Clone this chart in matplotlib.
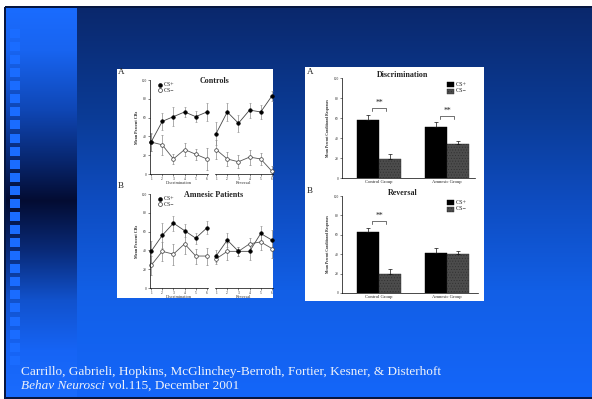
import numpy as np
import matplotlib
matplotlib.use("Agg")
import matplotlib.pyplot as plt
from matplotlib.patches import Rectangle

# ---- data -------------------------------------------------------------
sessions = [1, 2, 3, 4, 5, 6]

ctrl_disc_csp = [34, 56, 61, 66, 61, 66]
ctrl_disc_csp_err = [9, 9, 10, 5, 6, 10]
ctrl_disc_csm = [34, 31, 16, 26, 21, 16]
ctrl_disc_csm_err = [10, 11, 5, 7, 6, 12]
ctrl_rev_csp = [43, 66, 54, 68, 66, 83]
ctrl_rev_csp_err = [12, 10, 9, 8, 7, 5]
ctrl_rev_csm = [26, 16, 13, 18, 16, 3]
ctrl_rev_csm_err = [10, 7, 7, 8, 6, 5]

amn_disc_csp = [39, 56, 69, 61, 53, 64]
amn_disc_csp_err = [11, 13, 8, 7, 6, 7]
amn_disc_csm = [24, 39, 36, 47, 34, 34]
amn_disc_csm_err = [10, 10, 11, 11, 8, 9]
amn_rev_csp = [34, 51, 39, 39, 58, 51]
amn_rev_csp_err = [6, 7, 5, 9, 8, 11]
amn_rev_csm = [31, 39, 39, 47, 49, 42]
amn_rev_csm_err = [5, 9, 5, 6, 9, 10]

groups = ["Control Group", "Amnesic Group"]
disc_csp = [58, 51]
disc_csp_err = [5, 5]
disc_csm = [19, 34]
disc_csm_err = [5, 3]
rev_csp = [63, 41]
rev_csp_err = [4.5, 5.5]
rev_csm = [20, 40]
rev_csm_err = [4.5, 3]

yticks = [0, 20, 40, 60, 80, 100]

W, H = 592, 399
SERIF = ["Liberation Serif", "DejaVu Serif"]
plt.rcParams["font.family"] = SERIF
plt.rcParams["hatch.linewidth"] = 0.35

fig = plt.figure(figsize=(W / 100, H / 100), dpi=100)

# ---- slide background --------------------------------------------------
def ramp(stops, n):
    ys = np.arange(n)
    pos = [s[0] for s in stops]
    out = np.zeros((n, 3))
    for c in range(3):
        out[:, c] = np.interp(ys, pos, [s[1][c] for s in stops])
    return out / 255.0

main_stops = [(7, (10, 40, 108)), (120, (11, 60, 152)), (200, (14, 76, 192)),
              (290, (18, 95, 230)), (398, (20, 102, 250))]
strip_stops = [(7, (26, 108, 255)), (50, (24, 100, 240)), (110, (15, 70, 180)),
               (160, (8, 38, 110)), (200, (3, 12, 50)), (250, (9, 42, 120)),
               (300, (17, 82, 205)), (350, (22, 100, 245)), (398, (26, 108, 255))]

bg = np.ones((H, W, 3))
main = ramp(main_stops, H)
strip = ramp(strip_stops, H)
bg[7:, 5:, :] = main[7:, None, :]
bg[7:, 5:77, :] = strip[7:, None, :]
sq = np.array([26, 108, 255]) / 255.0
for k in range(26):
    y0 = int(round(29 + k * 13.07))
    bg[y0:y0 + 9, 10:20, :] = sq
border = np.array([6, 22, 64]) / 255.0
bg[6:8, 5:, :] = border
bg[7:, 4:6, :] = border
bg[397:, 5:, :] = border

ax_bg = fig.add_axes([0, 0, 1, 1])
ax_bg.imshow(bg, extent=(0, W, H, 0), interpolation="bilinear", aspect="auto")
ax_bg.set_xlim(0, W)
ax_bg.set_ylim(H, 0)
ax_bg.axis("off")

# white figure panels
ax_bg.add_patch(Rectangle((117, 69), 156, 229, facecolor="white", edgecolor="none"))
ax_bg.add_patch(Rectangle((305, 67), 179, 234, facecolor="white", edgecolor="none"))


def px_axes(x0, y0, x1, y1):
    return fig.add_axes([x0 / W, 1 - y1 / H, (x1 - x0) / W, (y1 - y0) / H])


def style_axes(ax, show_y=True):
    for s in ("top", "right"):
        ax.spines[s].set_visible(False)
    ax.spines["bottom"].set_linewidth(0.5)
    ax.spines["left"].set_linewidth(0.5)
    ax.spines["left"].set_visible(show_y)
    ax.patch.set_alpha(0)
    ax.tick_params(length=1.5, width=0.4, pad=0.8, labelsize=2.6, colors="#222222")
    if not show_y:
        ax.tick_params(axis="y", left=False, labelleft=False)


# ---- line plots (Controls / Amnesic Patients) --------------------------
def line_pair(ax, csp, csp_err, csm, csm_err):
    ekw = dict(ecolor="#8a8a8a", elinewidth=0.5, capsize=1.0, capthick=0.4)
    ax.errorbar(sessions, csm, yerr=csm_err, color="#555555", lw=0.6, marker="o",
                ms=2.6, mfc="white", mec="#333333", mew=0.5, clip_on=False, **ekw)
    ax.errorbar(sessions, csp, yerr=csp_err, color="#444444", lw=0.6, marker="o",
                ms=2.6, mfc="black", mec="black", mew=0.4, clip_on=False, **ekw)
    ax.set_xlim(0.9, 6.1)
    ax.set_ylim(0, 100)
    ax.set_xticks(sessions)
    ax.set_xticklabels([str(s) for s in sessions])


rows = [
    (80, 174, "A", 72, "Controls",
     (ctrl_disc_csp, ctrl_disc_csp_err, ctrl_disc_csm, ctrl_disc_csm_err),
     (ctrl_rev_csp, ctrl_rev_csp_err, ctrl_rev_csm, ctrl_rev_csm_err)),
    (194, 288, "B", 186, "Amnesic Patients",
     (amn_disc_csp, amn_disc_csp_err, amn_disc_csm, amn_disc_csm_err),
     (amn_rev_csp, amn_rev_csp_err, amn_rev_csm, amn_rev_csm_err)),
]

for top, bot, letter, ly, title, disc, rev in rows:
    a1 = px_axes(150, top, 208, bot)
    a2 = px_axes(215, top, 273, bot)
    style_axes(a1)
    style_axes(a2, show_y=False)
    line_pair(a1, *disc)
    line_pair(a2, *rev)
    a1.set_yticks(yticks)
    a1.set_yticklabels([str(t) for t in yticks])
    a1.set_xlabel("Discrimination", fontsize=3.2, labelpad=0.2, color="#333333")
    a2.set_xlabel("Reversal", fontsize=3.2, labelpad=0.2, color="#333333")
    a1.set_ylabel("Mean Percent CRs", fontsize=3.0, labelpad=1.5, color="#222222",
                  fontweight="bold")
    ax_bg.text(118, ly, letter, fontsize=6.5, color="#222222", va="center", ha="left")
    ax_bg.text(214, top + 1, title, fontsize=5.8, fontweight="bold", color="#222222",
               va="center", ha="center")
    # key
    ax_bg.plot([160], [top + 5], "o", ms=2.8, mfc="black", mec="black", mew=0.4)
    ax_bg.plot([160], [top + 10], "o", ms=2.8, mfc="white", mec="#333333", mew=0.5)
    ax_bg.text(164, top + 5, "CS+", fontsize=4.2, va="center", ha="left", color="#222222")
    ax_bg.text(164, top + 10, "CS\u2212", fontsize=4.2, va="center", ha="left", color="#222222")

# ---- bar charts (Discrimination / Reversal) -----------------------------
xg = np.arange(len(groups))
bw = 0.32
bars = [
    (78, 178, 475, "A", 72, "Discrimination", disc_csp, disc_csp_err, disc_csm,
     disc_csm_err, [(0, 70), (1, 62)]),
    (196, 293, 478, "B", 191, "Reversal", rev_csp, rev_csp_err, rev_csm,
     rev_csm_err, [(0, 74)]),
]
for top, bot, right, letter, ly, title, csp, csp_e, csm, csm_e, sig in bars:
    ax = px_axes(342, top, right, bot)
    style_axes(ax)
    x_lo = (342 - 379) / 68.0
    x_hi = (right - 379) / 68.0
    ax.bar(xg - bw / 2, csp, bw, color="black", edgecolor="black", lw=0.3)
    ax.bar(xg + bw / 2, csm, bw, color="#4c4c4c", edgecolor="#2e2e2e", lw=0.3,
           hatch="......")
    ekw = dict(fmt="none", ecolor="#111111", elinewidth=0.5, capsize=1.6, capthick=0.5)
    ax.errorbar(xg - bw / 2, csp, yerr=[np.zeros(len(csp)), csp_e], **ekw)
    ax.errorbar(xg + bw / 2, csm, yerr=[np.zeros(len(csm)), csm_e], **ekw)
    for g, yb in sig:
        ax.plot([g - 0.1, g - 0.1, g + 0.1, g + 0.1], [yb - 2.5, yb, yb, yb - 2.5],
                color="#222222", lw=0.45)
        ax.text(g, yb + 1.5, "**", fontsize=5.5, ha="center", va="bottom", color="#222222")
    ax.set_xlim(x_lo, x_hi)
    ax.set_ylim(0, 100)
    ax.set_yticks(yticks)
    ax.set_yticklabels([str(t) for t in yticks])
    ax.set_xticks(xg)
    ax.set_xticklabels(groups, fontsize=3.3)
    ax.tick_params(axis="x", length=0, pad=1.2)
    ax.set_ylabel("Mean Percent Conditioned Responses", fontsize=2.6, labelpad=2.2,
                  fontweight="bold", color="#222222")
    ax_bg.text(307, ly, letter, fontsize=6.5, color="#222222", va="center", ha="left")
    ax_bg.text(403, top - 3, title, fontsize=5.8, fontweight="bold", color="#222222",
               va="center", ha="center")
    # key
    ax_bg.add_patch(Rectangle((447, top + 4), 7, 5, facecolor="black", edgecolor="black", lw=0.3))
    ax_bg.add_patch(Rectangle((447, top + 10.5), 7, 5, facecolor="#4c4c4c",
                              edgecolor="#2e2e2e", lw=0.3, hatch="......"))
    ax_bg.text(456, top + 6.5, "CS+", fontsize=4.4, va="center", ha="left", color="#222222")
    ax_bg.text(456, top + 13, "CS\u2212", fontsize=4.4, va="center", ha="left", color="#222222")

# ---- citation -----------------------------------------------------------
txt_color = "#eef2fa"
cite_size = 9.5
ax_bg.text(21, 372, "Carrillo, Gabrieli, Hopkins, McGlinchey-Berroth, Fortier, Kesner, & Disterhoft",
           fontsize=cite_size, color=txt_color, va="center", ha="left")
t1 = ax_bg.text(21, 386, "Behav Neurosci", fontsize=cite_size, color=txt_color, va="center",
                ha="left", style="italic")
fig.canvas.draw()
bb = t1.get_window_extent()
x_end = bb.x1
ax_bg.text(x_end, 386, " vol.115, December 2001", fontsize=cite_size, color=txt_color,
           va="center", ha="left")

fig.savefig("out.png", dpi=100)
